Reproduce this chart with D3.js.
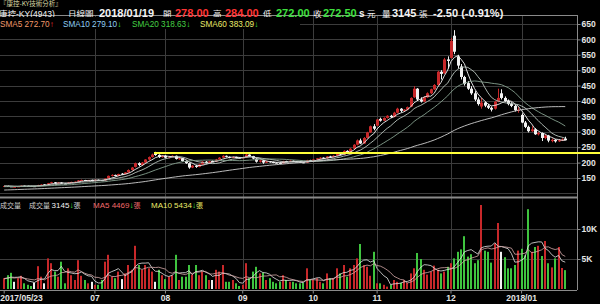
<!DOCTYPE html>
<html>
<head>
<meta charset="utf-8">
<script src="https://cdn.jsdelivr.net/npm/d3@7"></script>
<style>
  html, body { margin: 0; padding: 0; background: #000; overflow: hidden; }
  svg { display: block; }
</style>
</head>
<body>
<div id="chart"></div>
<script>
// daily candles 2017/05/23 .. 2018/01/19
const opens = [
  123, 124, 123, 121, 121.5, 123, 125, 124.5, 124, 123.5,
  124, 127, 129, 129, 133, 136, 134, 135, 132, 132,
  135, 137, 138, 142, 143.5, 142, 143.5, 143, 144, 143,
  142, 149, 157, 160, 157, 164, 163, 168, 176, 186,
  198, 192, 200, 210, 218, 228, 225, 218, 222, 216,
  219, 222, 212, 214, 205, 198, 184, 190, 186, 194,
  203, 199, 205, 204, 210, 216, 222, 219, 216, 218,
  216, 215, 217, 226, 221, 213, 203, 207, 200, 204,
  202, 200, 199, 198, 205, 203, 206, 204, 203, 201,
  200, 208, 206, 210, 214, 216, 214, 220, 218, 222,
  230, 226, 238, 234, 245, 258, 272, 262, 280, 298,
  318, 320, 342, 336, 345, 352, 348, 362, 375, 368,
  372, 382, 412, 440, 405, 398, 412, 425, 438, 452,
  495, 490, 535, 540, 612, 545, 512, 478, 458, 440,
  425, 405, 382, 395, 385, 378, 375, 398, 425, 410,
  400, 390, 384, 368, 355, 330, 316, 302, 308, 292,
  296, 280, 288, 270, 274, 269, 273, 278
];
const highs = [
  125, 125, 123.5, 122.5, 124, 126, 125.5, 125, 124.5, 124.5,
  128, 130, 130, 134, 137.5, 137, 136.5, 136, 133, 136,
  138, 139, 143.5, 145, 144, 144, 144.5, 145, 145, 143.5,
  149, 158, 162, 161, 164, 166, 169, 178, 186, 200,
  201, 202, 211, 220, 229, 235, 227, 224, 224, 221,
  224, 223, 216, 215, 207, 200, 192, 192, 196, 205,
  205, 206, 207, 212, 218, 224, 223, 220, 220, 219,
  217, 219, 231, 227, 222, 214, 209, 208, 206, 205,
  203, 201, 200, 206, 206, 207, 207, 205, 204, 202,
  209, 209, 211, 215, 218, 217, 221, 222, 224, 232,
  231, 240, 240, 247, 260, 275, 278, 283, 300, 320,
  325, 341, 346, 347, 354, 355, 365, 378, 377, 374,
  382, 412, 448, 442, 412, 415, 428, 440, 455, 498,
  500, 540, 545, 605, 630, 550, 520, 482, 465, 448,
  432, 412, 410, 398, 390, 382, 400, 440, 438, 415,
  405, 396, 388, 380, 360, 335, 320, 318, 312, 300,
  298, 292, 290, 278, 276, 276, 279, 284
];
const lows = [
  122, 122.5, 121, 120.5, 121, 122.5, 123.5, 123, 123, 123,
  123.5, 126.5, 127.5, 128.5, 132, 133, 133, 131, 130.5, 131.5,
  134, 136, 137.5, 141, 141, 141.5, 142, 142.5, 142, 140,
  141.5, 148, 155, 155, 156, 161, 162, 167, 174, 184,
  188, 190, 198, 208, 216, 222, 215, 216, 214, 214,
  217, 210, 209, 203, 196, 180, 182, 183, 185, 193,
  197, 198, 202, 203, 209, 215, 217, 214, 215, 214,
  213, 214, 216, 219, 211, 200, 200, 196, 199, 200,
  198, 197, 196, 197, 201, 202, 202, 201, 199, 198,
  199, 204, 205, 209, 213, 212, 213, 216, 217, 221,
  224, 225, 232, 233, 244, 256, 260, 261, 278, 296,
  305, 318, 333, 335, 343, 345, 347, 360, 364, 365,
  370, 380, 410, 400, 395, 396, 410, 422, 436, 450,
  470, 488, 505, 538, 552, 505, 470, 450, 436, 420,
  400, 385, 375, 380, 374, 366, 372, 396, 405, 398,
  386, 380, 366, 362, 328, 312, 298, 300, 290, 288,
  270, 276, 266, 266, 265, 267, 270, 272
];
const closes = [
  124, 123, 121.5, 121.5, 123, 125, 124.5, 124, 123.5, 123.5,
  127, 128.5, 128.5, 133, 136, 134, 135.5, 132, 131.5, 135,
  137, 138, 142, 143.5, 142, 143, 143, 144, 143, 141.5,
  148, 157, 160, 157, 163, 163, 168, 176, 184, 198,
  192, 200, 210, 218, 226, 226, 218, 222, 216, 219,
  222, 212, 214, 205, 198, 184, 190, 186, 194, 203,
  199, 204, 204, 210, 216, 222, 219, 216, 218, 216,
  215, 217, 226, 221, 213, 203, 207, 200, 204, 202,
  200, 199, 198, 205, 203, 206, 204, 203, 201, 200,
  208, 206, 210, 214, 216, 214, 220, 218, 222, 230,
  226, 238, 234, 245, 258, 272, 262, 280, 298, 318,
  310, 340, 336, 345, 352, 348, 362, 375, 368, 372,
  380, 410, 440, 405, 398, 412, 425, 438, 452, 495,
  488, 535, 530, 595, 560, 515, 478, 455, 440, 425,
  405, 390, 395, 385, 378, 372, 398, 410, 410, 400,
  390, 384, 370, 372, 330, 316, 302, 308, 292, 296,
  280, 288, 271.5, 274, 269, 273, 275, 272.5
];
const volumes = [
  1800, 2300, 2700, 1200, 1800, 2200, 950, 700, 500, 1050,
  3800, 2050, 950, 5100, 4300, 2900, 2050, 4550, 950, 3450,
  2300, 1500, 4800, 2200, 1500, 950, 1200, 700, 700, 1500,
  4550, 5700, 2050, 1800, 2900, 1650, 2600, 4000, 3200, 7200,
  4000, 3200, 4000, 3450, 2900, 1200, 3200, 2300, 1650, 2050,
  2300, 5700, 1500, 2050, 2050, 4000, 2400, 4000, 2300, 2900,
  2300, 1500, 1500, 3200, 2900, 4000, 1200, 1200, 1500, 950,
  500, 700, 4300, 1800, 2900, 3700, 2600, 2700, 1500, 1800,
  1200, 950, 1200, 2300, 1500, 1200, 1200, 950, 950, 1000,
  3450, 1500, 1500, 1800, 1200, 950, 2600, 1800, 1800, 3450,
  2600, 4000, 2050, 3450, 4000, 5100, 7500, 4000, 3700, 2200,
  6200, 950, 950, 700, 400, 700, 1500, 1200, 1050, 1500,
  1050, 2600, 3450, 6000, 5000, 3200, 2400, 2900, 3900, 3200,
  2600, 2900, 3700, 4300, 5100, 6200, 6600, 8800, 5400, 5800,
  4300, 4800, 14000, 6400, 6200, 4400, 7600, 11000, 6200, 5300,
  3450, 3450, 4000, 6400, 6700, 5600, 13300, 6200, 7000, 7200,
  5500, 8000, 4295, 3600, 5100, 7000, 3500, 3145
];
// sessions before the first visible day, only used for the moving averages
const priorCloses = [
  98, 99, 97.5, 98, 99.5, 100, 99, 98.5, 100, 101.5,
  102, 101, 100.5, 102, 103, 104.5, 104, 103, 104, 105.5,
  106, 105, 104.5, 106, 107, 108.5, 108, 107, 108, 109.5,
  110, 111, 110.5, 112, 113, 112, 114, 115.5, 115, 116,
  117.5, 117, 118, 119.5, 119, 120, 121.5, 121, 122, 123.5,
  123, 122, 123, 124.5, 124, 123, 124, 125, 123.5
];
const priorVolumes = [1500, 2100, 1800, 1200, 2500, 1600, 1900, 1400, 1700];

const monthTicks = [0, 27, 48, 71, 92, 111, 133, 154];
const monthLabels = ["2017/05/23", "07", "08", "09", "10", "11", "12", "2018/01"];
const priceTicks = [150, 200, 250, 300, 350, 400, 450, 500, 550, 600, 650];
const volumeTicks = [5000, 10000];
const volumeTickLabels = ["5K", "10K"];
const supportPrice = 231;
const supportFrom = 45;

const smaPeriods = [5, 10, 20, 60];
const smaNames = ["SMA5 272.70", "SMA10 279.10", "SMA20 318.63", "SMA60 383.09"];
const smaArrows = ["↑", "↓", "↓", "↓"];
const volMaPeriods = [5, 10];

const width = 600, height = 304;
const plotLeft = 2.5, plotRight = 577;
const priceTop = 15, priceBottom = 197;
const volTop = 198, volBottom = 290;
const numFont = "'Liberation Sans', Arial, sans-serif";
const cjkFont = "'Noto Sans CJK TC', sans-serif";
const red = "#c8282a", green = "#3fc43f", white = "#f2f2f2";

const svg = d3.select("#chart").append("svg")
  .attr("width", width).attr("height", height)
  .style("background", "#000");

const x = d3.scaleBand()
  .domain(d3.range(closes.length + 3))
  .range([plotLeft, plotRight])
  .paddingInner(0.3).paddingOuter(0.15);
const cx = (i) => x(i) + x.bandwidth() / 2;
const px = (v) => Math.round(v) + 0.5;

const yPrice = d3.scaleLinear().domain([100, 650]).range([193.4, 24]);
const yVol = d3.scaleLinear().domain([0, 15000]).range([289, 199]);

function movingAverage(values, prior, n) {
  const all = prior.concat(values);
  return values.map((_, i) => {
    const end = i + prior.length;
    if (end - n + 1 < 0) return null;
    return d3.mean(all.slice(end - n + 1, end + 1));
  });
}

// grid
const grid = svg.append("g").attr("stroke", "#3c3c3c").attr("stroke-width", 1);
priceTicks.concat([100]).forEach((t) => {
  grid.append("line").attr("x1", 0).attr("x2", plotRight)
    .attr("y1", px(yPrice(t))).attr("y2", px(yPrice(t)));
});
volumeTicks.forEach((t) => {
  grid.append("line").attr("x1", 0).attr("x2", plotRight)
    .attr("y1", px(yVol(t))).attr("y2", px(yVol(t)));
});
monthTicks.slice(1).forEach((idx) => {
  grid.append("line").attr("x1", px(cx(idx))).attr("x2", px(cx(idx)))
    .attr("y1", priceTop).attr("y2", volBottom);
});

// frame
const frame = svg.append("g").attr("stroke", "#8a8a8a").attr("fill", "none");
frame.append("line").attr("x1", 0).attr("x2", plotRight).attr("y1", priceTop + 0.5).attr("y2", priceTop + 0.5);
frame.append("line").attr("x1", 0).attr("x2", plotRight).attr("y1", priceBottom + 0.5).attr("y2", priceBottom + 0.5).attr("stroke-width", 2);
frame.append("line").attr("x1", 0).attr("x2", plotRight).attr("y1", volBottom + 0.5).attr("y2", volBottom + 0.5);
frame.append("line").attr("x1", plotRight + 0.5).attr("x2", plotRight + 0.5).attr("y1", priceTop).attr("y2", volBottom);

// volume bars
const volDir = volumes.map((_, i) => {
  const prev = i === 0 ? priorCloses[priorCloses.length - 1] : closes[i - 1];
  return closes[i] > prev ? red : closes[i] < prev ? green : white;
});
svg.append("g").selectAll("rect")
  .data(volumes)
  .join("rect")
  .attr("x", (d, i) => Math.round(cx(i) - 1))
  .attr("y", (d) => yVol(d))
  .attr("width", 2)
  .attr("height", (d) => yVol(0) - yVol(d))
  .attr("fill", (d, i) => volDir[i]);

const volColors = ["#e8e8e8", "#d6a8a8"];
volMaPeriods.forEach((n, k) => {
  const ma = movingAverage(volumes, priorVolumes, n);
  svg.append("path")
    .datum(ma)
    .attr("fill", "none")
    .attr("stroke", volColors[k])
    .attr("stroke-width", 0.8)
    .attr("d", d3.line().defined((d) => d != null).x((d, i) => cx(i)).y((d) => yVol(d)));
});

// candles
const candles = svg.append("g");
closes.forEach((c, i) => {
  const o = opens[i];
  const col = c > o ? red : white;
  const xc = px(cx(i));
  candles.append("line")
    .attr("x1", xc).attr("x2", xc)
    .attr("y1", yPrice(highs[i])).attr("y2", yPrice(lows[i]))
    .attr("stroke", col).attr("stroke-width", 1);
  const top = yPrice(Math.max(o, c));
  const bot = yPrice(Math.min(o, c));
  candles.append("rect")
    .attr("x", Math.round(cx(i)) - 1)
    .attr("y", top)
    .attr("width", 3)
    .attr("height", Math.max(1, bot - top))
    .attr("fill", col);
});

// moving averages
const smaColors = ["#f4f4f4", "#b9c4bd", "#86a08e", "#cfcfcf"];
smaPeriods.forEach((n, k) => {
  const ma = movingAverage(closes, priorCloses, n);
  svg.append("path")
    .datum(ma)
    .attr("fill", "none")
    .attr("stroke", smaColors[k])
    .attr("stroke-width", 0.9)
    .attr("d", d3.line().defined((d) => d != null).x((d, i) => cx(i)).y((d) => yPrice(d)));
});

// support line
svg.append("line")
  .attr("x1", Math.round(cx(supportFrom)) - 1).attr("x2", width)
  .attr("y1", Math.round(yPrice(supportPrice))).attr("y2", Math.round(yPrice(supportPrice)))
  .attr("stroke", "#ffff3a").attr("stroke-width", 2);

// right axes
const priceAxis = svg.append("g")
  .attr("transform", `translate(${plotRight + 0.5},0)`)
  .call(d3.axisRight(yPrice).tickValues(priceTicks).tickSize(3).tickPadding(1));
const volAxis = svg.append("g")
  .attr("transform", `translate(${plotRight + 0.5},0)`)
  .call(d3.axisRight(yVol).tickValues(volumeTicks).tickSize(3).tickPadding(1)
    .tickFormat((d, i) => volumeTickLabels[i]));
[priceAxis, volAxis].forEach((a) => {
  a.select(".domain").remove();
  a.selectAll(".tick line").attr("stroke", "#8a8a8a");
  a.selectAll(".tick text")
    .attr("fill", "#e6e6e6")
    .style("font-family", numFont)
    .style("font-size", "8.5px")
    .style("font-weight", "bold");
});

// date axis
const dateAxis = svg.append("g")
  .attr("transform", `translate(0,${volBottom + 0.5})`)
  .call(d3.axisBottom(x).tickValues(monthTicks).tickSize(3).tickPadding(1)
    .tickFormat((d, i) => monthLabels[i]));
dateAxis.select(".domain").remove();
dateAxis.selectAll(".tick line").attr("stroke", "#8a8a8a");
dateAxis.selectAll(".tick text")
  .attr("fill", "#e6e6e6")
  .style("font-family", numFont)
  .style("font-size", "8.5px")
  .style("font-weight", "bold");
dateAxis.select(".tick text").attr("text-anchor", "start").attr("x", -4);

// header
svg.append("text").attr("x", 0).attr("y", 6)
  .attr("fill", "#d9d6a4").style("font-family", cjkFont).style("font-size", "6.5px")
  .text("『康控-KY技術分析』");

function label(xp, yp, txt, col, font, size, weight) {
  return svg.append("text").attr("x", xp).attr("y", yp).attr("fill", col)
    .style("font-family", font).style("font-size", size + "px")
    .style("font-weight", weight || "normal").text(txt);
}
const hy = 16.5;
const nameText = label(-1, hy, "康控", white, cjkFont, 8.5);
nameText.append("tspan").style("font-family", numFont).style("font-size", "8.5px").text("-KY(4943)");
label(68, hy, "日線圖", white, cjkFont, 8.5);
label(99, hy, "2018/01/19", white, numFont, 11, "bold");
label(163, hy, "開", white, cjkFont, 8.5);
label(175, hy, "278.00", "#ff3434", numFont, 11, "bold");
label(213, hy, "高", white, cjkFont, 8.5);
label(225, hy, "284.00", "#ff3434", numFont, 11, "bold");
label(263, hy, "低", white, cjkFont, 8.5);
label(276, hy, "272.00", "#3ee03e", numFont, 11, "bold");
label(313, hy, "收", white, cjkFont, 8.5);
label(323, hy, "272.50", "#3ee03e", numFont, 11, "bold");
label(359, hy, "s", white, numFont, 10, "bold");
label(367, hy, "元", white, cjkFont, 8.5);
label(382, hy, "量", white, cjkFont, 8.5);
label(392, hy, "3145", white, numFont, 11, "bold");
label(419, hy, "張", white, cjkFont, 8.5);
label(433, hy, "-2.50 (-0.91%)", white, numFont, 11, "bold");

// sma legend
svg.append("rect").attr("x", 0).attr("y", 17).attr("width", 300).attr("height", 12).attr("fill", "#000");
const smaLabelColors = ["#f39a6a", "#8fcdf5", "#45d045", "#ecec6a"];
const smaLabelX = [0, 63, 132, 200];
smaNames.forEach((name, k) => {
  const t = svg.append("text").attr("x", smaLabelX[k]).attr("y", 27)
    .style("font-family", numFont).style("font-size", "8.2px");
  t.append("tspan").attr("fill", smaLabelColors[k]).text(name);
  t.append("tspan").attr("fill", smaArrows[k] === "↑" ? "#ff3434" : "#3ee03e").text(smaArrows[k]);
});

// volume legend
const vy = 208;
label(0, vy, "成交量", "#cfcfcf", cjkFont, 7);
const v1 = svg.append("text").attr("x", 29).attr("y", vy).style("font-size", "8px");
v1.append("tspan").attr("fill", "#cfcfcf").style("font-family", cjkFont).style("font-size", "7px").text("成交量 ");
v1.append("tspan").attr("fill", white).style("font-family", numFont).text("3145");
v1.append("tspan").attr("fill", "#3ee03e").style("font-family", numFont).text("↓");
v1.append("tspan").attr("fill", "#cfcfcf").style("font-family", cjkFont).style("font-size", "7px").text("張");
const v2 = svg.append("text").attr("x", 93).attr("y", vy).style("font-size", "8px");
v2.append("tspan").attr("fill", "#f06a6a").style("font-family", numFont).text("MA5 4469");
v2.append("tspan").attr("fill", "#3ee03e").style("font-family", numFont).text("↓");
v2.append("tspan").attr("fill", "#f06a6a").style("font-family", cjkFont).style("font-size", "7px").text("張");
const v3 = svg.append("text").attr("x", 151).attr("y", vy).style("font-size", "8px");
v3.append("tspan").attr("fill", "#ecec6a").style("font-family", numFont).text("MA10 5434");
v3.append("tspan").attr("fill", "#3ee03e").style("font-family", numFont).text("↓");
v3.append("tspan").attr("fill", "#ecec6a").style("font-family", cjkFont).style("font-size", "7px").text("張");
</script>
</body>
</html>
